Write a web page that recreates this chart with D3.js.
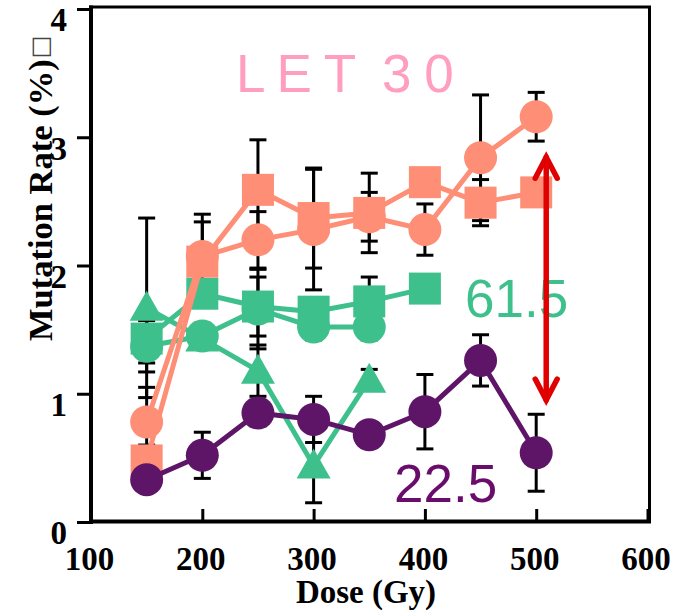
<!DOCTYPE html>
<html><head><meta charset="utf-8">
<script src="https://cdn.jsdelivr.net/npm/d3@7"></script>
<style>body{margin:0;background:#fff}</style>
</head><body><svg id="c" width="675" height="616"></svg>
<script>
// ---- data ----
const doses = [150, 200, 250, 300, 350, 400, 450, 500];
const salmonCircle    = [0.78, 2.07, 2.20, 2.28, 2.38, 2.28, 2.84, 3.16];
const salmonCircleErr = [0.27, 0.33, 0.22, 0.47, 0.19, 0.20, 0.49, 0.19];
const salmonSquare    = [0.48, 2.03, 2.59, 2.37, 2.41, 2.65, 2.49, 2.57];
const salmonSquareErr = [0.12, 0.31, 0.39, 0.39, 0.31, 0.08, 0.18, 0.08];
const tealSquare      = [1.43, 1.78, 1.68, 1.64, 1.72, 1.82];
const tealSquareErr   = [0.19, 0.08, 0.23, 0.10, 0.19, 0.06];
const tealCircle      = [1.37, 1.45, 1.66, 1.52, 1.52];
const tealCircleErr   = [0.20, 0.10, 0.31, 0.10, 0.10];
const tealTriangle    = [1.67, 1.43, 1.18, 0.44, 1.11];
const tealTriangleErr = [0.70, 0.08, 0.20, 0.29, 0.08];
const purpleCircle    = [0.33, 0.52, 0.85, 0.80, 0.68, 0.86, 1.26, 0.54];
const purpleCircleErr = [0.05, 0.18, 0.10, 0.18, 0.08, 0.29, 0.20, 0.30];
const xTicks = [100, 200, 300, 400, 500, 600];
const yTicks = [0, 1, 2, 3, 4];
const labels = {let30: "L E T  3 0", teal: "61.5", purple: "22.5"};
const arrowDose = 509, arrowFrom = 0.935, arrowTo = 2.86;

const C = {salmon: "#FE8E76", teal: "#3EC08C", purple: "#5E1567", pink: "#FF9EBE", purpleText: "#690C6C", red: "#E00000"};

const mk = (vals, errs, shape, color) => vals.map((v, i) => ({x: doses[i], y: v, e: errs[i], shape, color}));
const groups = [
  [ {pts: mk(tealTriangle, tealTriangleErr, "tri", C.teal)},
    {pts: mk(tealCircle, tealCircleErr, "circ", C.teal)},
    {pts: mk(tealSquare, tealSquareErr, "sq", C.teal)} ],
  [ {pts: mk(salmonSquare, salmonSquareErr, "sq", C.salmon)},
    {pts: mk(salmonCircle, salmonCircleErr, "circ", C.salmon)} ],
  [ {pts: mk(purpleCircle, purpleCircleErr, "circ", C.purple)} ]
];

// ---- chart ----
const svg = d3.select("#c");
svg.append("rect").attr("width", 675).attr("height", 616).attr("fill", "#fff");
const x = d3.scaleLinear().domain([100, 600]).range([91, 647.5]);
const y = d3.scaleLinear().domain([0, 4]).range([522, 9]);
const serif = "'Liberation Serif','Times New Roman',serif";
const sans = "'Liberation Sans',Arial,sans-serif";

// error bars (behind everything)
const eb = svg.append("g").attr("stroke", "#000").attr("stroke-width", 3);
groups.flat().forEach(s => s.pts.forEach(p => {
  const cx = x(p.x), y1 = y(p.y + p.e), y2 = y(p.y - p.e);
  eb.append("line").attr("x1", cx).attr("x2", cx).attr("y1", y1).attr("y2", y2);
  eb.append("line").attr("x1", cx - 8.5).attr("x2", cx + 8.5).attr("y1", y1).attr("y2", y1);
  eb.append("line").attr("x1", cx - 8.5).attr("x2", cx + 8.5).attr("y1", y2).attr("y2", y2);
}));

const line = d3.line().x(d => x(d.x)).y(d => y(d.y));
groups.forEach(g => {
  const gg = svg.append("g");
  g.forEach(s => gg.append("path").attr("d", line(s.pts)).attr("fill", "none")
    .attr("stroke", s.pts[0].color).attr("stroke-width", 5).attr("stroke-linejoin", "round"));
  g.forEach(s => s.pts.forEach(p => {
    const cx = x(p.x), cy = y(p.y);
    if (p.shape === "circ") gg.append("circle").attr("cx", cx).attr("cy", cy).attr("r", 16.5).attr("fill", p.color);
    else if (p.shape === "sq") gg.append("rect").attr("x", cx - 16).attr("y", cy - 16).attr("width", 32).attr("height", 32).attr("fill", p.color);
    else gg.append("path").attr("d", `M${cx},${cy - 17}L${cx + 17},${cy + 13}L${cx - 17},${cy + 13}Z`).attr("fill", p.color);
  }));
});

// axes
const yAxis = svg.append("g").attr("transform", "translate(91,0)")
  .call(d3.axisLeft(y).tickValues(yTicks).tickSize(14).tickPadding(10).tickFormat(d3.format("d")));
yAxis.select(".domain").remove();
yAxis.selectAll(".tick line").attr("stroke-width", 3);
yAxis.selectAll("text").attr("font-family", serif).attr("font-weight", "bold").attr("font-size", 33).attr("dy", "0.66em").attr("fill", "#000");

const xAxis = svg.append("g").attr("transform", "translate(0,522)")
  .call(d3.axisBottom(x).tickValues(xTicks).tickSizeInner(-13).tickSizeOuter(0).tickPadding(25).tickFormat(d3.format("d")));
xAxis.select(".domain").remove();
xAxis.selectAll(".tick line").attr("stroke-width", 3);
xAxis.selectAll("text").attr("font-family", serif).attr("font-weight", "bold").attr("font-size", 33).attr("dx", -2).attr("fill", "#000");

// frame
svg.append("line").attr("x1", 89).attr("x2", 651).attr("y1", 7).attr("y2", 7).attr("stroke", "#000").attr("stroke-width", 3);
svg.append("line").attr("x1", 649.5).attr("x2", 649.5).attr("y1", 6).attr("y2", 523).attr("stroke", "#000").attr("stroke-width", 3);
svg.append("line").attr("x1", 91).attr("x2", 91).attr("y1", 5.5).attr("y2", 524).attr("stroke", "#000").attr("stroke-width", 4);
svg.append("line").attr("x1", 89).attr("x2", 651).attr("y1", 521.5).attr("y2", 521.5).attr("stroke", "#000").attr("stroke-width", 4);

// axis titles
svg.append("text").attr("x", 366).attr("y", 603).attr("text-anchor", "middle")
  .attr("font-family", serif).attr("font-weight", "bold").attr("font-size", 33).text("Dose (Gy)");
const yt = svg.append("text").attr("transform", "translate(52,341) rotate(-90)")
  .attr("font-family", serif).attr("font-weight", "bold").attr("font-size", 34.5);
yt.append("tspan").text("Mutation Rate (%)");
yt.append("tspan").attr("font-family", "'DejaVu Sans',sans-serif").attr("font-weight", "normal")
  .attr("font-size", 24).attr("dx", 1).attr("dy", -4).attr("fill", "#444").text("\u25A1");

// annotations
svg.append("text").attr("x", 236).attr("y", 92).attr("font-family", sans).attr("font-size", 53)
  .attr("letter-spacing", -0.9).attr("fill", C.pink).style("white-space", "pre").text(labels.let30);
svg.append("text").attr("x", 465).attr("y", 317).attr("font-family", sans).attr("font-size", 53)
  .attr("fill", C.teal).text(labels.teal);
svg.append("text").attr("x", 394).attr("y", 502).attr("font-family", sans).attr("font-size", 53)
  .attr("fill", C.purpleText).text(labels.purple);

// red double arrow
const ax = x(arrowDose), ay1 = y(arrowTo), ay2 = y(arrowFrom);
const ar = svg.append("g").attr("stroke", C.red).attr("stroke-width", 5.5).attr("fill", "none").attr("stroke-linecap", "round").attr("stroke-linejoin", "miter");
ar.append("line").attr("x1", ax).attr("x2", ax).attr("y1", ay1 + 2).attr("y2", ay2 - 2);
ar.append("path").attr("d", `M${ax - 11},${ay1 + 23}L${ax},${ay1 + 2}L${ax + 11},${ay1 + 23}`);
ar.append("path").attr("d", `M${ax - 11},${ay2 - 23}L${ax},${ay2 - 2}L${ax + 11},${ay2 - 23}`);
</script>
</body></html>
